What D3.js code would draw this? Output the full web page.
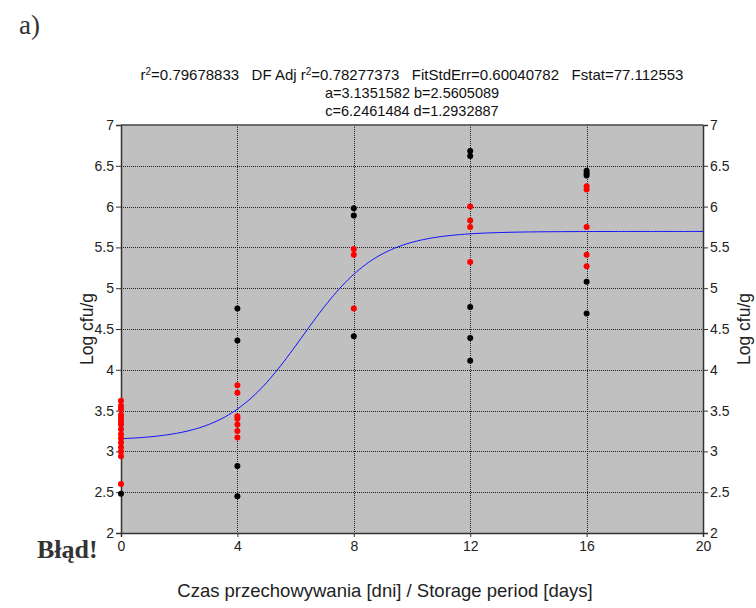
<!DOCTYPE html>
<html>
<head>
<meta charset="utf-8">
<script src="https://cdn.jsdelivr.net/npm/d3@7"></script>
<style>
  body { margin: 0; background: #fff; }
  svg { display: block; }
</style>
</head>
<body>
<script>
// storage days and measured log cfu/g
const redDays = [0,0,0,0,0,0,0,0,0,0,0,0,0,0,0, 4,4,4,4,4,4,4, 8,8,8, 12,12,12,12, 16,16,16,16,16];
const redValues = [3.62,3.56,3.52,3.45,3.41,3.37,3.33,3.27,3.21,3.16,3.11,3.05,3.0,2.94,2.6,
                   3.81,3.72,3.43,3.40,3.33,3.25,3.17,
                   5.48,5.41,4.75,
                   6.0,5.83,5.75,5.32,
                   6.25,6.21,5.75,5.41,5.27];
const blackDays = [0, 4,4,4,4, 8,8,8, 12,12,12,12,12, 16,16,16,16,16];
const blackValues = [2.48, 4.75,4.36,2.82,2.45, 5.98,5.89,4.41, 6.68,6.62,4.77,4.39,4.11,
                     6.44,6.41,6.38,5.08,4.69];
const fitParams = {a: 3.1351582, b: 2.5605089, c: 6.2461484, d: 1.2932887};
const xTicks = [0, 4, 8, 12, 16, 20];
const yTicks = [2, 2.5, 3, 3.5, 4, 4.5, 5, 5.5, 6, 6.5, 7];
const titleLines = [
  ['r', '2', '=0.79678833   DF Adj r', '2', '=0.78277373   FitStdErr=0.60040782   Fstat=77.112553'],
  ['a=3.1351582 b=2.5605089'],
  ['c=6.2461484 d=1.2932887']
];

const width = 756, height = 608;
const margin = {top: 125, left: 121, right: 53, bottom: 75};

const svg = d3.select('body').append('svg')
  .attr('width', width)
  .attr('height', height)
  .style('font-family', 'Liberation Sans, Arial, sans-serif');

const x = d3.scaleLinear().domain([0, 20]).range([margin.left, width - margin.right]);
const y = d3.scaleLinear().domain([2, 7]).range([height - margin.bottom, margin.top]);

// plot background
svg.append('rect')
  .attr('x', x(0)).attr('y', y(7))
  .attr('width', x(20) - x(0)).attr('height', y(2) - y(7))
  .attr('fill', '#c0c0c0');

// dotted grid
svg.append('g').selectAll('line')
  .data(yTicks.slice(1, -1))
  .join('line')
  .attr('x1', x(0)).attr('x2', x(20))
  .attr('y1', d => Math.round(y(d)) + 0.5).attr('y2', d => Math.round(y(d)) + 0.5)
  .attr('stroke', '#222').attr('stroke-dasharray', '1,1');

svg.append('g').selectAll('line')
  .data(xTicks.slice(1, -1))
  .join('line')
  .attr('y1', y(7)).attr('y2', y(2))
  .attr('x1', d => Math.round(x(d)) + 0.5).attr('x2', d => Math.round(x(d)) + 0.5)
  .attr('stroke', '#222').attr('stroke-dasharray', '1,1');

// axes
const fmt = d => String(d);
const leftAxis = svg.append('g')
  .attr('transform', `translate(${x(0)},0)`)
  .call(d3.axisLeft(y).tickValues(yTicks).tickFormat(fmt).tickSize(5).tickPadding(2));
const rightAxis = svg.append('g')
  .attr('transform', `translate(${x(20)},0)`)
  .call(d3.axisRight(y).tickValues(yTicks).tickFormat(fmt).tickSize(5).tickPadding(2));
const bottomAxis = svg.append('g')
  .attr('transform', `translate(0,${y(2)})`)
  .call(d3.axisBottom(x).tickValues(xTicks).tickFormat(fmt).tickSize(4).tickPadding(4));

[leftAxis, rightAxis, bottomAxis].forEach(g => {
  g.selectAll('text').attr('font-size', 14).attr('fill', '#222')
    .style('font-family', 'Liberation Sans, Arial, sans-serif');
  g.selectAll('line').attr('stroke', '#333');
  g.select('.domain').attr('stroke', '#333').attr('stroke-width', 1.5);
});

// top border
svg.append('line')
  .attr('x1', x(0)).attr('x2', x(20))
  .attr('y1', y(7)).attr('y2', y(7))
  .attr('stroke', '#444').attr('stroke-width', 1.5);

// fitted curve
const fitCurve = d3.range(0, 20.01, 0.1).map(t => ({
  x: t,
  y: fitParams.a + fitParams.b / (1 + Math.exp(-(t - fitParams.c) / fitParams.d))
}));
svg.append('path')
  .datum(fitCurve)
  .attr('fill', 'none')
  .attr('stroke', '#1010ff')
  .attr('stroke-width', 1)
  .attr('d', d3.line().x(d => x(d.x)).y(d => y(d.y)));

// data points
svg.append('g').selectAll('circle')
  .data(blackDays.map((d, i) => [d, blackValues[i]]))
  .join('circle')
  .attr('cx', d => x(d[0])).attr('cy', d => y(d[1]))
  .attr('r', 3).attr('fill', '#000');

svg.append('g').selectAll('circle')
  .data(redDays.map((d, i) => [d, redValues[i]]))
  .join('circle')
  .attr('cx', d => x(d[0])).attr('cy', d => y(d[1]))
  .attr('r', 3).attr('fill', '#ff0000');

// title
const title = svg.append('text')
  .attr('text-anchor', 'middle')
  .attr('fill', '#111')
  .style('white-space', 'pre');
titleLines.forEach((parts, li) => {
  const fs = li === 0 ? 15 : 14.5;
  const line = title.append('tspan').attr('x', (x(0) + x(20)) / 2).attr('y', 80 + li * 18);
  parts.forEach((p, i) => {
    const isSup = parts.length > 1 && i % 2 === 1;
    line.append('tspan')
      .attr('font-size', isSup ? 10 : fs)
      .attr('baseline-shift', isSup ? '5' : null)
      .text(p);
  });
});

// axis titles
svg.append('text')
  .attr('transform', `translate(93,${(y(2) + y(7)) / 2}) rotate(-90)`)
  .attr('text-anchor', 'middle')
  .attr('font-size', 17.5).attr('fill', '#222')
  .text('Log cfu/g');

svg.append('text')
  .attr('transform', `translate(750,${(y(2) + y(7)) / 2}) rotate(-90)`)
  .attr('text-anchor', 'middle')
  .attr('font-size', 17.5).attr('fill', '#222')
  .text('Log cfu/g');

svg.append('text')
  .attr('x', 385).attr('y', 597)
  .attr('text-anchor', 'middle')
  .attr('font-size', 18.5).attr('fill', '#222')
  .text('Czas przechowywania [dni] / Storage period [days]');

// panel label and stray word
svg.append('text')
  .attr('x', 19).attr('y', 34)
  .attr('font-family', 'Liberation Serif, Times New Roman, serif')
  .attr('font-size', 27).attr('fill', '#333')
  .text('a)');

svg.append('text')
  .attr('x', 37).attr('y', 558)
  .attr('font-family', 'Liberation Serif, Times New Roman, serif')
  .attr('font-size', 26).attr('font-weight', 'bold').attr('fill', '#333')
  .text('Błąd!');
</script>
</body>
</html>
